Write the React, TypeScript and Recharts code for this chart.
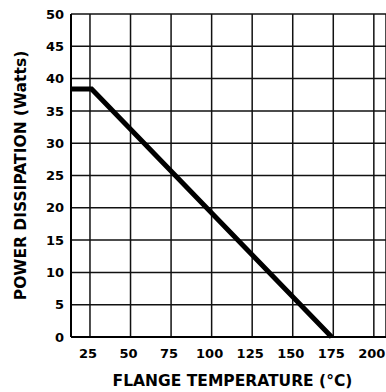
import { LineChart, Line, XAxis, YAxis, CartesianGrid } from "recharts";

const temps = [13.3, 26, 174];
const watts = [38.4, 38.4, 0];
const xTicks = [25, 50, 75, 100, 125, 150, 175, 200];
const yTicks = [0, 5, 10, 15, 20, 25, 30, 35, 40, 45, 50];

const data = temps.map((t, i) => ({ temp: t, watts: watts[i] }));

const tickFont = { fontFamily: "DejaVu Sans", fontWeight: "bold", fontSize: 13, fill: "#000" };
const labelFont = { fontFamily: "DejaVu Sans", fontWeight: "bold", fontSize: 15.5, fill: "#000" };

export default function App() {
  return (
    <div style={{ position: "absolute", left: 0, top: 0, background: "#fff" }}>
      <LineChart width={386} height={392} data={data} margin={{ top: 14, right: 0, left: 0, bottom: 0 }}>
        <CartesianGrid stroke="#111" strokeWidth={1.5} />
        <XAxis
          dataKey="temp"
          type="number"
          domain={[13.3, 207.5]}
          ticks={xTicks}
          height={55}
          tickLine={false}
          tickSize={0}
          tickMargin={12}
          axisLine={{ stroke: "#000", strokeWidth: 2 }}
          tick={{ ...tickFont, dx: -2 }}
          allowDataOverflow
          label={{ value: "FLANGE TEMPERATURE (°C)", position: "insideBottom", offset: 6, dx: 4, style: labelFont }}
        />
        <YAxis
          type="number"
          domain={[0, 50]}
          ticks={yTicks}
          width={71}
          tickLine={false}
          tickSize={0}
          tickMargin={7}
          axisLine={{ stroke: "#000", strokeWidth: 2 }}
          tick={tickFont}
          label={{
            value: "POWER DISSIPATION (Watts)",
            angle: -90,
            position: "insideLeft",
            offset: 20,
            style: { ...labelFont, textAnchor: "middle" },
          }}
        />
        <Line type="linear" dataKey="watts" stroke="#000" strokeWidth={5} dot={false} isAnimationActive={false} />
      </LineChart>
    </div>
  );
}
